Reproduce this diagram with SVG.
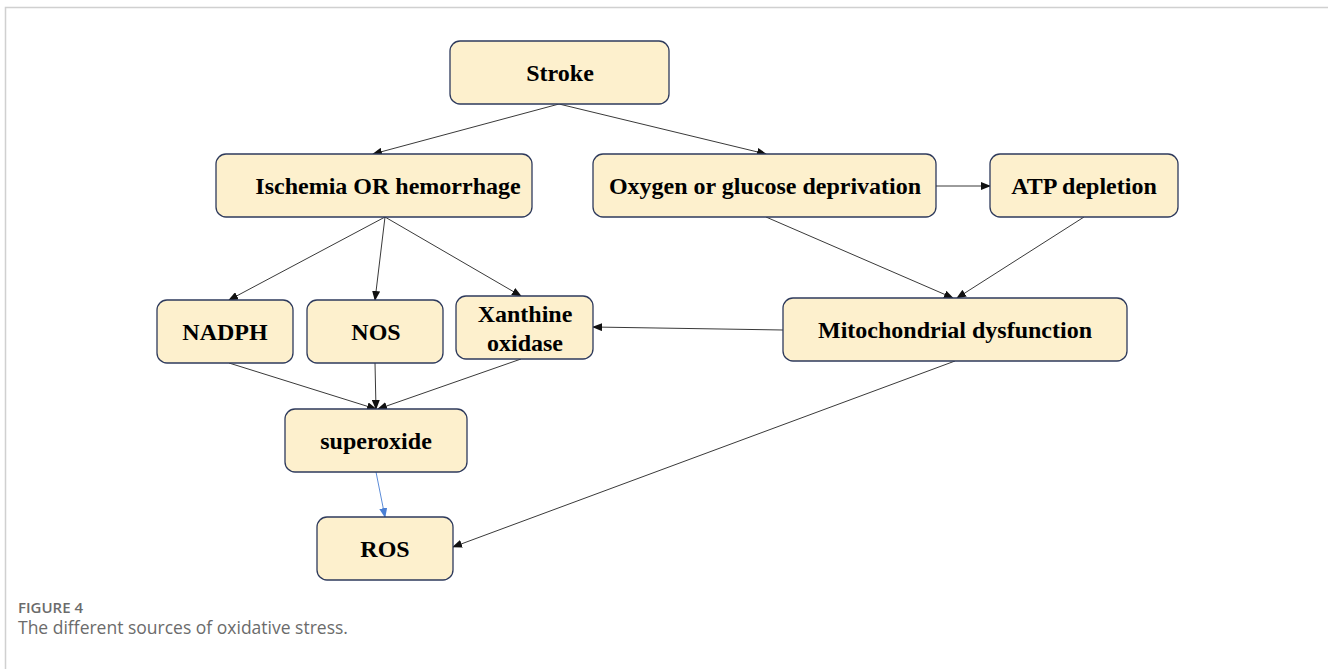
<svg xmlns="http://www.w3.org/2000/svg" width="1328" height="669" viewBox="0 0 1328 669">
<style>
.box{fill:#fdf0cd;stroke:#2e3a5c;stroke-width:1.3}
.t{font-family:"Liberation Serif",serif;font-weight:bold;font-size:24px;fill:#000;text-anchor:middle;dominant-baseline:central}
.c{stroke:#222;stroke-width:0.9;fill:none;marker-end:url(#ah)}
.cb{stroke:#4a7fd4;stroke-width:0.9;fill:none;marker-end:url(#ahb)}
</style>
<defs>
<marker id="ah" markerWidth="10" markerHeight="8" refX="9" refY="4" orient="auto" markerUnits="userSpaceOnUse"><path d="M0,0 L10,4 L0,8 Z" fill="#111"/></marker>
<marker id="ahb" markerWidth="10" markerHeight="8" refX="9" refY="4" orient="auto" markerUnits="userSpaceOnUse"><path d="M0,0 L10,4 L0,8 Z" fill="#4a7fd4"/></marker>
</defs>
<rect width="1328" height="669" fill="#fff"/>
<path d="M5.5,669 V7.5 H1328" stroke="#d0d0d0" stroke-width="1.5" fill="none"/>
<g id="connectors">
<line class="c" x1="559" y1="104" x2="373" y2="154"/>
<line class="c" x1="559" y1="104" x2="766" y2="154"/>
<line class="c" x1="936" y1="186" x2="990" y2="186"/>
<line class="c" x1="385" y1="217" x2="229" y2="300"/>
<line class="c" x1="385" y1="217" x2="375" y2="300"/>
<line class="c" x1="385" y1="217" x2="521" y2="296"/>
<line class="c" x1="766" y1="217" x2="953" y2="298"/>
<line class="c" x1="1084" y1="217" x2="957" y2="298"/>
<line class="c" x1="783" y1="330" x2="593" y2="327"/>
<line class="c" x1="229" y1="363" x2="376" y2="409"/>
<line class="c" x1="375" y1="363" x2="376" y2="409"/>
<line class="c" x1="521" y1="359" x2="378" y2="409"/>
<line class="cb" x1="376" y1="472" x2="385" y2="517"/>
<line class="c" x1="955" y1="361" x2="453" y2="547"/>
</g>
<g id="stroke"><rect class="box" x="450" y="41" width="219" height="63" rx="10"/><text class="t" x="560" y="73">Stroke</text></g>
<g id="ischemia"><rect class="box" x="216" y="154" width="316" height="63" rx="10"/><text class="t" x="388" y="186">Ischemia OR hemorrhage</text></g>
<g id="oxygen"><rect class="box" x="593" y="154" width="343" height="63" rx="10"/><text class="t" x="765" y="186">Oxygen or glucose deprivation</text></g>
<g id="atp"><rect class="box" x="990" y="154" width="188" height="63" rx="10"/><text class="t" x="1084" y="186">ATP depletion</text></g>
<g id="nadph"><rect class="box" x="157" y="300" width="136" height="63" rx="10"/><text class="t" x="225" y="332">NADPH</text></g>
<g id="nos"><rect class="box" x="307" y="300" width="136" height="63" rx="10"/><text class="t" x="376" y="332">NOS</text></g>
<g id="xanthine"><rect class="box" x="456" y="296" width="137" height="63" rx="10"/><text class="t" x="525" y="314">Xanthine</text><text class="t" x="525" y="343">oxidase</text></g>
<g id="mito"><rect class="box" x="783" y="298" width="344" height="63" rx="10"/><text class="t" x="955" y="330">Mitochondrial dysfunction</text></g>
<g id="superoxide"><rect class="box" x="285" y="409" width="182" height="63" rx="10"/><text class="t" x="376" y="441">superoxide</text></g>
<g id="ros"><rect class="box" x="317" y="517" width="136" height="63" rx="10"/><text class="t" x="385" y="549">ROS</text></g>
<g id="caption" font-family="'Open Sans','Noto Sans',sans-serif" fill="#6b6b6b">
<text x="18" y="613" font-size="15" font-weight="600">FIGURE 4</text>
<text x="18" y="634" font-size="17.5">The different sources of oxidative stress.</text>
</g>
</svg>
